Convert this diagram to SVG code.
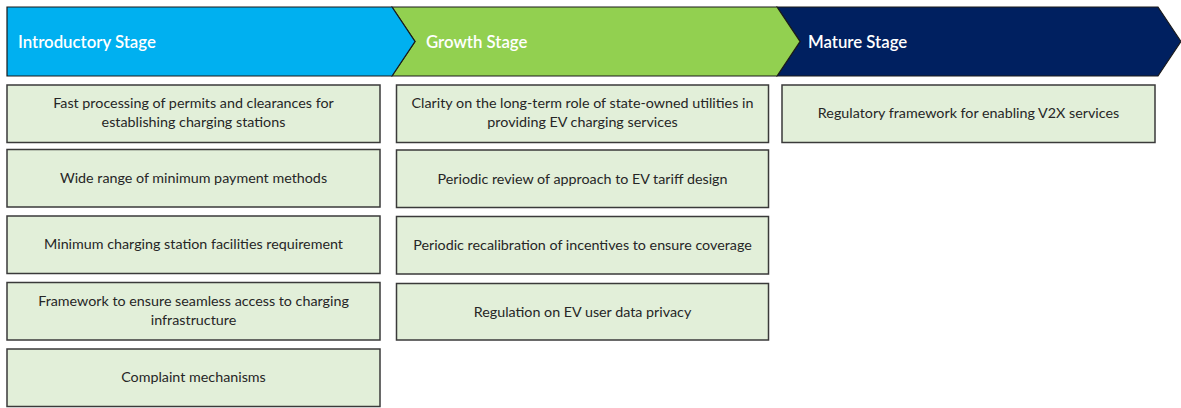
<svg xmlns="http://www.w3.org/2000/svg" width="1181" height="408" viewBox="0 0 1181 408">
<style>
.chev{stroke:#1a1a1a;stroke-width:1.2}
.stage{font-family:Lato,"Open Sans",sans-serif;font-size:16.8px;font-weight:600;fill:#ffffff}
.box{fill:#e2efd9;stroke:#3a3a3a;stroke-width:1.5}
.t{font-family:Lato,"Open Sans",sans-serif;font-size:14.3px;fill:#262626;text-anchor:middle}
</style>
<rect width="1181" height="408" fill="#ffffff"/>
<g id="stage-mature">
<polygon class="chev" fill="#002060" points="777,7 1158,7 1181,41.5 1158,76 777,76 800,41.5"/>
<text class="stage" x="808" y="47.5">Mature Stage</text>
</g>
<g id="stage-growth">
<polygon class="chev" fill="#92d050" points="392,7 777,7 800,41.5 777,76 392,76 415,41.5"/>
<text class="stage" x="426" y="47.5">Growth Stage</text>
</g>
<g id="stage-intro">
<polygon class="chev" fill="#00b0f0" points="7,7 392,7 415,41.5 392,76 7,76"/>
<text class="stage" x="18" y="47.5">Introductory Stage</text>
</g>
<g id="i1"><rect class="box" x="7" y="85" width="373" height="57.5"/>
<text class="t" x="193.5" y="107.5">Fast processing of permits and clearances for</text>
<text class="t" x="193.5" y="126.5">establishing charging stations</text></g>
<g id="i2"><rect class="box" x="7" y="149.5" width="373" height="57.5"/>
<text class="t" x="193.5" y="183">Wide range of minimum payment methods</text></g>
<g id="i3"><rect class="box" x="7" y="216" width="373" height="57.5"/>
<text class="t" x="193.5" y="249">Minimum charging station facilities requirement</text></g>
<g id="i4"><rect class="box" x="7" y="282.5" width="373" height="57.5"/>
<text class="t" x="193.5" y="305.5">Framework to ensure seamless access to charging</text>
<text class="t" x="193.5" y="324.5">infrastructure</text></g>
<g id="i5"><rect class="box" x="7" y="349" width="373" height="57.5"/>
<text class="t" x="193.5" y="382">Complaint mechanisms</text></g>
<g id="g1"><rect class="box" x="396.5" y="85" width="372" height="57.5"/>
<text class="t" x="582.5" y="107.5">Clarity on the long-term role of state-owned utilities in</text>
<text class="t" x="582.5" y="126.5">providing EV charging services</text></g>
<g id="g2"><rect class="box" x="396.5" y="150" width="372" height="57.5"/>
<text class="t" x="582.5" y="183.5">Periodic review of approach to EV tariff design</text></g>
<g id="g3"><rect class="box" x="396.5" y="216.5" width="372" height="57.5"/>
<text class="t" x="582.5" y="249.5">Periodic recalibration of incentives to ensure coverage</text></g>
<g id="g4"><rect class="box" x="396.5" y="283.5" width="372" height="56.5"/>
<text class="t" x="582.5" y="316.5">Regulation on EV user data privacy</text></g>
<g id="m1"><rect class="box" x="782" y="85" width="373" height="57.5"/>
<text class="t" x="968.5" y="118">Regulatory framework for enabling V2X services</text></g>
<g id="connectors"></g>
</svg>
